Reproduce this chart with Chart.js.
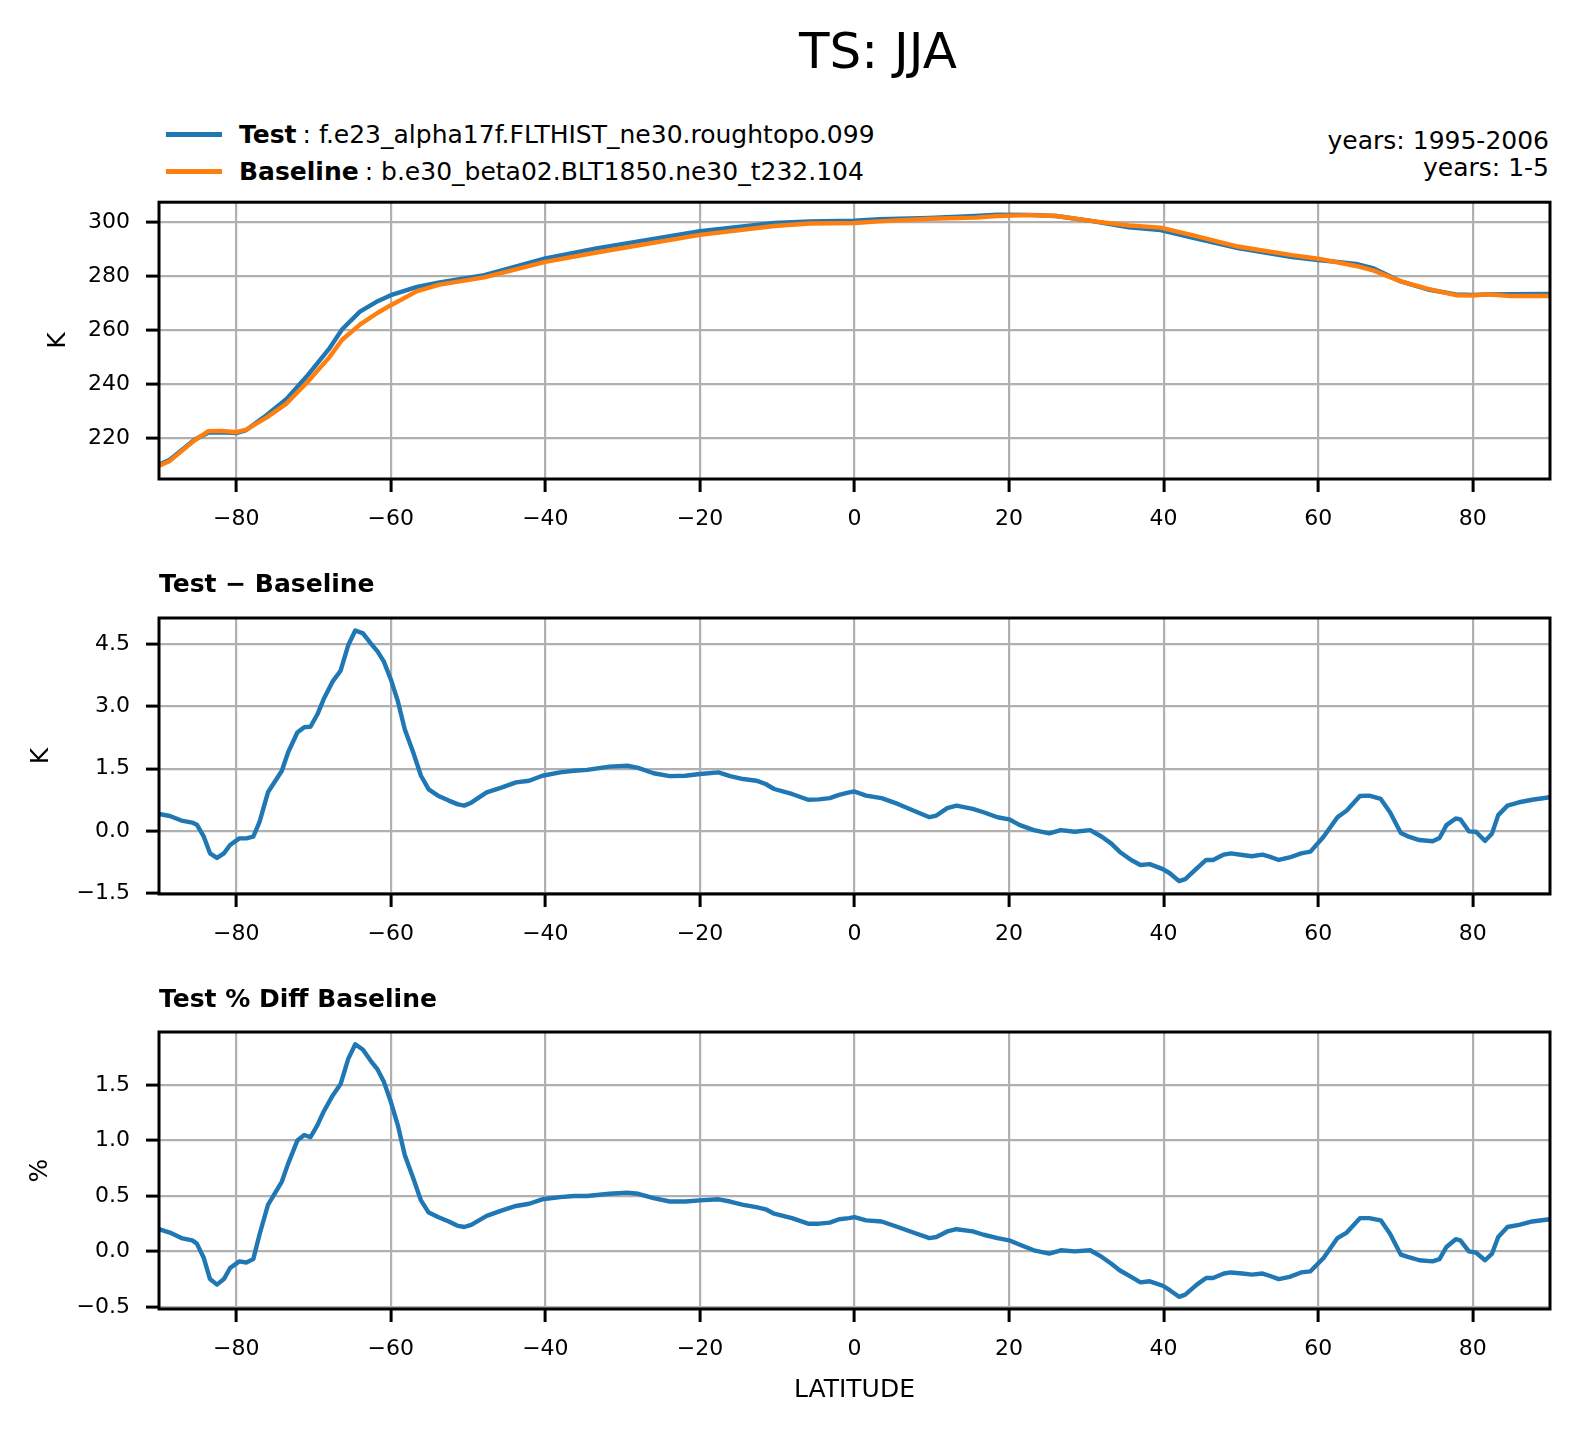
<!DOCTYPE html>
<html>
<head>
<meta charset="utf-8">
<title>TS: JJA</title>
<script src="https://cdn.jsdelivr.net/npm/chart.js@4.4.1/dist/chart.umd.min.js"></script>
<style>
  body { margin: 0; background: #fff; }
  #page { position: relative; width: 1580px; height: 1433px; font-family: "DejaVu Sans", sans-serif; color: #000; overflow: hidden; }
  canvas { position: absolute; left: 0; }
  .txt { position: absolute; white-space: nowrap; }
  #title { left: 0; width: 1756px; top: 26px; text-align: center; font-size: 50px; line-height: 50px; }
  .leg { left: 239px; font-size: 25px; line-height: 25px; }
  .leg b { margin-right: 6px; }
  .swatch { position: absolute; left: 166px; width: 56px; height: 5px; }
  #years { right: 31px; top: 128px; text-align: right; font-size: 25px; line-height: 26.8px; }
</style>
</head>
<body>
<div id="page">
  <div class="txt" id="title">TS: JJA</div>

  <div class="swatch" style="top:131.5px; background:#1f77b4"></div>
  <div class="txt leg" style="top:122px"><b>Test</b>: f.e23_alpha17f.FLTHIST_ne30.roughtopo.099</div>
  <div class="swatch" style="top:168.5px; background:#ff7f0e"></div>
  <div class="txt leg" style="top:159px"><b>Baseline</b>: b.e30_beta02.BLT1850.ne30_t232.104</div>

  <div class="txt" id="years">years: 1995-2006<br>years: 1-5</div>

  <canvas id="c1" width="1580" height="387" style="top:173px"></canvas>
  <canvas id="c2" width="1580" height="415" style="top:560px"></canvas>
  <canvas id="c3" width="1580" height="458" style="top:975px"></canvas>
</div>

<script>
// top panel: zonal mean surface temperature (K)
const latTS = [-90, -88.6, -85.4, -83.6, -81.9, -80, -78.7, -76.1, -73.5, -70.9, -68, -66.3, -64, -61.7, -60,
  -56.6, -53.7, -47.9, -40, -33.4, -20, -10.4, -5.8, 0, 3.2, 9.7, 15.6, 18.5, 22.6, 26.1, 30.8, 35.5, 39.6,
  43.7, 49.6, 56.6, 60, 64.9, 67.2, 70.7, 74.2, 77.8, 80, 81.9, 84.8, 90];
const testTS = [210.2, 212.0, 219.4, 222.1, 222.2, 221.9, 223.0, 228.5, 234.5, 242.8, 253.0, 260.3, 266.8, 270.7, 272.9,
  276.0, 277.6, 280.3, 286.5, 290.2, 296.6, 299.6, 300.2, 300.5, 301.0, 301.5, 302.2, 302.7, 302.6, 302.2, 300.3, 298.0, 297.0,
  294.2, 290.3, 287.0, 285.9, 284.5, 282.8, 278.0, 275.0, 273.2, 273.0, 273.2, 273.3, 273.4];
const baseTS = [209.8, 211.6, 219.2, 222.6, 222.7, 222.2, 223.2, 227.6, 232.8, 240.4, 249.8, 256.4, 262.0, 266.4, 269.2,
  274.4, 276.8, 279.5, 285.2, 288.7, 295.2, 298.5, 299.4, 299.6, 300.2, 301.2, 301.6, 302.2, 302.5, 302.2, 300.3, 298.7, 297.9,
  295.1, 290.9, 287.7, 286.4, 283.7, 282.0, 278.0, 275.2, 272.9, 272.8, 273.2, 272.6, 272.6];

// middle + bottom panels share the same latitudes
const latDiff = [-90.0, -88.6, -87.1, -85.7, -85.1, -84.2, -83.4, -82.5, -81.6, -80.8, -79.6, -78.7, -77.8, -77.0, -75.9,
  -74.1, -73.3, -72.1, -71.2, -70.4, -69.5, -68.7, -67.5, -66.5, -65.5, -64.6, -63.6, -62.6, -61.7, -60.9, -60.0, -59.1,
  -58.2, -57.1, -56.1, -55.1, -53.9, -52.5, -51.3, -50.5, -49.6, -47.6, -45.6, -43.8, -42.1, -40.4, -38.1, -36.3, -34.6,
  -31.7, -29.4, -28.0, -26.0, -23.9, -21.9, -20.0, -17.6, -16.1, -14.4, -12.7, -11.5, -10.4, -8.1, -6.0, -4.6, -3.2, -2.0, -0.7,
  0.0, 1.5, 3.5, 5.6, 7.6, 9.7, 10.6, 12.0, 13.2, 15.3, 16.7, 18.5, 20.0, 21.4, 23.2, 25.2, 26.7, 28.5, 30.5, 32.0, 33.2,
  34.3, 35.8, 37.0, 38.2, 39.9, 40.8, 42.0, 42.8, 44.3, 45.5, 46.4, 47.8, 48.7, 50.2, 51.4, 52.8, 53.7, 54.9, 56.3, 57.8,
  59.0, 60.7, 62.5, 63.7, 65.4, 66.6, 68.1, 69.3, 70.7, 71.6, 73.1, 74.8, 75.7, 76.6, 77.8, 78.4, 79.5, 80.4, 81.6, 82.5,
  83.3, 84.5, 86.0, 87.7, 90.0];
const diffK = [0.41, 0.36, 0.25, 0.20, 0.15, -0.14, -0.54, -0.65, -0.54, -0.34, -0.18, -0.18, -0.14, 0.21, 0.93,
  1.45, 1.89, 2.37, 2.50, 2.51, 2.81, 3.17, 3.61, 3.86, 4.48, 4.83, 4.76, 4.52, 4.32, 4.08, 3.65, 3.13,
  2.45, 1.89, 1.33, 1.00, 0.85, 0.73, 0.64, 0.61, 0.68, 0.93, 1.05, 1.17, 1.21, 1.33, 1.41, 1.45, 1.47,
  1.55, 1.57, 1.52, 1.39, 1.32, 1.33, 1.37, 1.41, 1.32, 1.25, 1.21, 1.13, 1.01, 0.89, 0.75, 0.76, 0.79, 0.87, 0.93,
  0.95, 0.85, 0.79, 0.65, 0.49, 0.33, 0.37, 0.55, 0.61, 0.53, 0.45, 0.33, 0.28, 0.14, 0.02, -0.06, 0.02, -0.02, 0.02, -0.14, -0.30,
  -0.50, -0.70, -0.82, -0.80, -0.92, -1.02, -1.21, -1.16, -0.90, -0.70, -0.70, -0.57, -0.54, -0.58, -0.61, -0.57, -0.62, -0.70, -0.64, -0.54,
  -0.50, -0.14, 0.33, 0.49, 0.84, 0.85, 0.77, 0.45, -0.05, -0.13, -0.22, -0.25, -0.17, 0.14, 0.30, 0.28, -0.01, -0.02, -0.24, -0.06,
  0.38, 0.61, 0.69, 0.75, 0.81];
const diffPct = [0.20, 0.17, 0.12, 0.10, 0.07, -0.06, -0.25, -0.30, -0.25, -0.15, -0.09, -0.10, -0.07, 0.15, 0.42,
  0.63, 0.79, 1.00, 1.05, 1.03, 1.14, 1.26, 1.41, 1.51, 1.74, 1.87, 1.82, 1.72, 1.64, 1.53, 1.35, 1.14,
  0.87, 0.66, 0.46, 0.35, 0.31, 0.27, 0.23, 0.22, 0.24, 0.32, 0.37, 0.41, 0.43, 0.47, 0.49, 0.50, 0.50,
  0.52, 0.53, 0.52, 0.48, 0.45, 0.45, 0.46, 0.47, 0.45, 0.42, 0.40, 0.38, 0.34, 0.30, 0.25, 0.25, 0.26, 0.29, 0.30,
  0.31, 0.28, 0.27, 0.22, 0.17, 0.12, 0.13, 0.18, 0.20, 0.18, 0.15, 0.12, 0.10, 0.06, 0.01, -0.02, 0.01, 0.00, 0.01, -0.05, -0.11,
  -0.17, -0.23, -0.28, -0.27, -0.31, -0.35, -0.41, -0.39, -0.30, -0.24, -0.24, -0.20, -0.19, -0.20, -0.21, -0.20, -0.22, -0.25, -0.23, -0.19,
  -0.18, -0.06, 0.12, 0.17, 0.30, 0.30, 0.28, 0.16, -0.03, -0.05, -0.08, -0.09, -0.07, 0.04, 0.11, 0.10, 0.00, -0.01, -0.08, -0.02,
  0.13, 0.22, 0.24, 0.27, 0.29];

const latTicks = [-80, -60, -40, -20, 0, 20, 40, 60, 80];
const tsTicks = [220, 240, 260, 280, 300];
const diffTicks = [-1.5, 0.0, 1.5, 3.0, 4.5];
const pctTicks = [-0.5, 0.0, 0.5, 1.0, 1.5];

const BLUE = '#1f77b4';
const ORANGE = '#ff7f0e';

Chart.defaults.font.family = "'DejaVu Sans', sans-serif";
Chart.defaults.color = '#000';

function minus(s) {
  return String(s).replace('-', '\u2212');
}

function points(xs, ys) {
  return xs.map((x, i) => ({ x: x, y: ys[i] }));
}

// matplotlib style: spines on all four sides
const axesBox = {
  id: 'axesBox',
  afterDatasetsDraw(chart) {
    const { ctx, chartArea: a } = chart;
    ctx.save();
    ctx.strokeStyle = '#000';
    ctx.lineWidth = 3;
    ctx.strokeRect(a.left, a.top, a.right - a.left, a.bottom - a.top);
    ctx.restore();
  }
};

const grid = { color: '#b0b0b0', lineWidth: 2.2, tickColor: '#000', tickLength: 13, tickWidth: 3 };

function line(label, data, colour, order) {
  return {
    label: label,
    data: data,
    borderColor: colour,
    backgroundColor: colour,
    borderWidth: 4.4,
    pointRadius: 0,
    tension: 0,
    borderJoinStyle: 'round',
    order: order
  };
}

function panel(id, p) {
  const xScale = {
    type: 'linear',
    min: -90,
    max: 90,
    afterBuildTicks: s => { s.ticks = latTicks.map(v => ({ value: v })); },
    afterFit: s => { s.height = p.xHeight; },
    ticks: { font: { size: 22 }, padding: 14, maxRotation: 0, callback: v => minus(v) },
    grid: grid,
    border: { display: false },
    title: p.xTitle
      ? { display: true, text: p.xTitle, font: { size: 25 }, padding: { top: 0, bottom: 28 } }
      : { display: false }
  };
  const yScale = {
    min: p.yMin,
    max: p.yMax,
    afterBuildTicks: s => { s.ticks = p.yTicks.map(v => ({ value: v })); },
    afterFit: s => { s.width = 159; },
    ticks: { font: { size: 22 }, padding: 16, callback: v => minus(v.toFixed(p.dec)) },
    grid: grid,
    border: { display: false },
    title: { display: true, text: p.yTitle, font: { size: 25 }, padding: { top: p.yTitlePad, bottom: 0 } }
  };
  return new Chart(document.getElementById(id), {
    type: 'line',
    data: { datasets: p.datasets },
    options: {
      responsive: false,
      animation: false,
      devicePixelRatio: 1,
      layout: { padding: { top: p.padTop, right: 30, left: 0, bottom: 0 } },
      plugins: {
        legend: { display: false },
        tooltip: { enabled: false },
        title: p.subtitle
          ? { display: true, text: p.subtitle, align: 'start', fullSize: false,
              font: { size: 25, weight: 'bold' }, color: '#000', padding: { top: 10, bottom: p.subPadBottom } }
          : { display: false }
      },
      scales: { x: xScale, y: yScale }
    },
    plugins: [axesBox]
  });
}

panel('c1', {
  datasets: [
    line('Test', points(latTS, testTS), BLUE, 1),
    line('Baseline', points(latTS, baseTS), ORANGE, 0)
  ],
  yMin: 204.9, yMax: 307.3, yTicks: tsTicks, dec: 0,
  yTitle: 'K', yTitlePad: 43,
  padTop: 0, xHeight: 81
});

panel('c2', {
  datasets: [line('Test \u2212 Baseline', points(latDiff, diffK), BLUE, 0)],
  yMin: -1.52, yMax: 5.13, yTicks: diffTicks, dec: 1,
  yTitle: 'K', yTitlePad: 26,
  subtitle: 'Test \u2212 Baseline', subPadBottom: 18,
  padTop: 0, xHeight: 81
});

panel('c3', {
  datasets: [line('Test % Diff Baseline', points(latDiff, diffPct), BLUE, 0)],
  yMin: -0.52, yMax: 1.98, yTicks: pctTicks, dec: 1,
  yTitle: '%', yTitlePad: 25.3,
  subtitle: 'Test % Diff Baseline', subPadBottom: 17,
  padTop: 0, xHeight: 124, xTitle: 'LATITUDE'
});
</script>
</body>
</html>
